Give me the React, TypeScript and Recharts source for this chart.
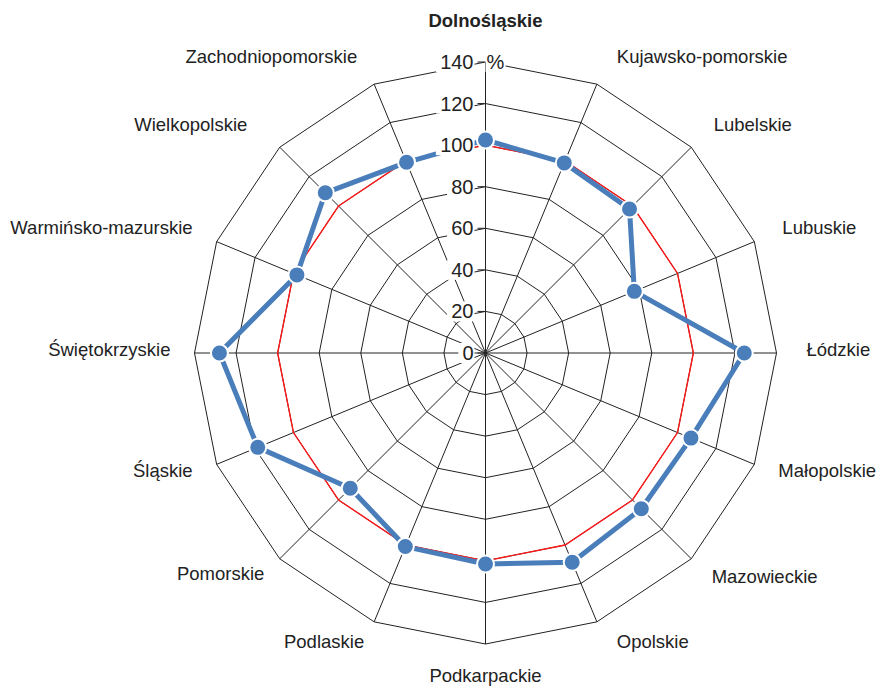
import React from "react";
import {
  RadarChart,
  Radar,
  PolarGrid,
  PolarAngleAxis,
  PolarRadiusAxis,
} from "recharts";

const CATEGORIES = [
  "Dolnośląskie",
  "Kujawsko-pomorskie",
  "Lubelskie",
  "Lubuskie",
  "Łódzkie",
  "Małopolskie",
  "Mazowieckie",
  "Opolskie",
  "Podkarpackie",
  "Podlaskie",
  "Pomorskie",
  "Śląskie",
  "Świętokrzyskie",
  "Warmińsko-mazurskie",
  "Wielkopolskie",
  "Zachodniopomorskie",
];

const VALUES = [
  102.5, 99, 98, 77.5, 124.5, 107, 106, 109, 101.5, 100.8, 92, 118.6, 128, 98.2,
  109, 99.3,
];

const BASELINE = [
  100, 100, 100, 100, 100, 100, 100, 100, 100, 100, 100, 100, 100, 100, 100, 100,
];

const RADIUS_TICKS = [0, 20, 40, 60, 80, 100, 120, 140];

// small horizontal nudges for category labels (layout only)
const LABEL_NUDGE = [0, 10, 4, 4, 4, 0, 2, 10, 0, 0, 3, 0, 2, 0, -14, -7];

const W = 878;
const H = 686;
const CX = 485.5;
const CY = 353;
const OUTER = 291;
const FONT = "'Liberation Sans', Arial, sans-serif";
const BLUE = "#4a7ebb";

const data = CATEGORIES.map((name, i) => ({
  name,
  value: VALUES[i],
  base: BASELINE[i],
}));

function AngleTick(props: any) {
  const i = CATEGORIES.indexOf(props.payload.value);
  const a = (i * 2 * Math.PI) / CATEGORIES.length;
  const sin = Math.sin(a);
  const cos = Math.cos(a);
  const r = OUTER + 26;
  const x = CX + r * sin + LABEL_NUDGE[i];
  let y = CY - r * cos - 4;
  let anchor = "middle";
  if (sin > 0.1) anchor = "start";
  else if (sin < -0.1) anchor = "end";
  if (i === 0) y = CY - OUTER - 42;
  if (Math.abs(sin) < 0.1 && cos < 0) y = CY + OUTER + 31;
  if (i === 6) y += 3;
  return (
    <text
      x={x}
      y={y}
      textAnchor={anchor}
      dominantBaseline="central"
      fontFamily={FONT}
      fontSize={18.5}
      fontWeight={i === 0 ? "bold" : "normal"}
      fill="#222"
    >
      {props.payload.value}
    </text>
  );
}

function RadiusTick(props: any) {
  const { x, y, payload } = props;
  const label = String(payload.value);
  const w = label.length * 11.2 + 4;
  return (
    <g>
      <rect x={x - 12 - w} y={y - 10} width={w + 1} height={20} fill="#fff" />
      <line x1={x - 8} x2={x - 1} y1={y} y2={y} stroke="#222" strokeWidth={1} />
      <text
        x={x - 12}
        y={y}
        textAnchor="end"
        dominantBaseline="central"
        fontFamily={FONT}
        fontSize={20}
        fill="#222"
      >
        {label}
      </text>
      {payload.value === 140 && (
        <g>
          <rect x={x} y={y - 10} width={20} height={20} fill="#fff" />
          <text
            x={x + 1}
            y={y}
            textAnchor="start"
            dominantBaseline="central"
            fontFamily={FONT}
            fontSize={20}
            fill="#222"
          >
            %
          </text>
        </g>
      )}
    </g>
  );
}

function Dot(props: any) {
  return (
    <circle
      cx={props.cx}
      cy={props.cy}
      r={8.5}
      fill={BLUE}
      stroke="#fff"
      strokeWidth={2}
    />
  );
}

export default function App() {
  return (
    <div style={{ position: "absolute", left: 0, top: 0, background: "#fff" }}>
      <RadarChart
        width={W}
        height={H}
        data={data}
        cx={CX}
        cy={CY}
        outerRadius={OUTER}
        margin={{ top: 0, right: 0, bottom: 0, left: 0 }}
      >
        <PolarGrid stroke="#222" strokeWidth={1} />
        <PolarAngleAxis
          dataKey="name"
          tick={(p: any) => <AngleTick {...p} />}
          tickLine={false}
          axisLine={false}
        />
        <Radar
          dataKey="base"
          stroke="#ff1a1a"
          strokeWidth={1.4}
          fill="none"
          fillOpacity={0}
          dot={false}
          isAnimationActive={false}
        />
        <Radar
          dataKey="value"
          stroke={BLUE}
          strokeWidth={5}
          strokeLinejoin="round"
          fill="none"
          fillOpacity={0}
          dot={(p: any) => <Dot key={p.index} {...p} />}
          isAnimationActive={false}
        />
        <PolarRadiusAxis
          angle={90}
          domain={[0, 140]}
          ticks={RADIUS_TICKS}
          tickCount={8}
          axisLine={{ stroke: "#222" }}
          tickLine={false}
          tick={(p: any) => <RadiusTick {...p} />}
        />
      </RadarChart>
    </div>
  );
}
